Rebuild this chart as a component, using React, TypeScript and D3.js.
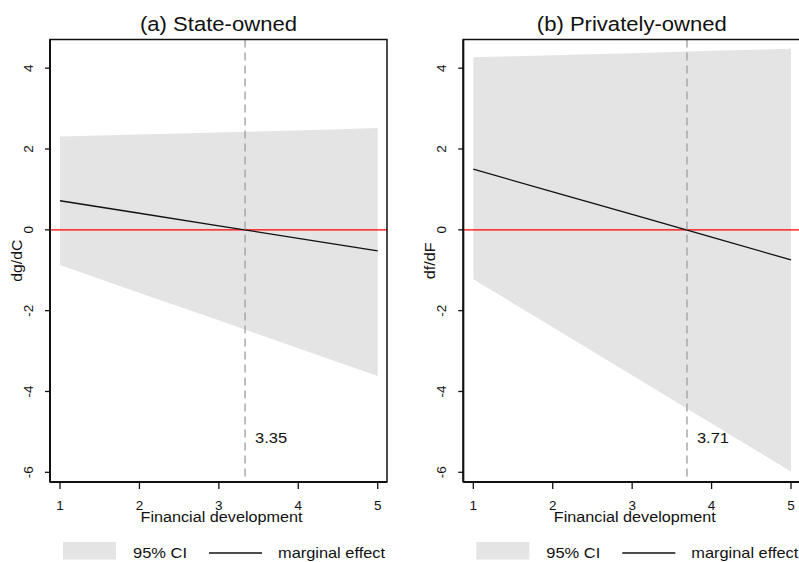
import React from "react";
import * as d3 from "d3";

const X_VALUES = [1, 2, 3, 4, 5];
const X_TICKS = [1, 2, 3, 4, 5];
const Y_TICKS = [-6, -4, -2, 0, 2, 4];

const STATE_ME = [0.72, 0.41, 0.1, -0.21, -0.52];
const STATE_UPPER = [2.31, 2.36, 2.41, 2.46, 2.52];
const STATE_LOWER = [-0.87, -1.56, -2.24, -2.93, -3.62];

const PRIVATE_ME = [1.5, 0.94, 0.38, -0.18, -0.745];
const PRIVATE_UPPER = [4.27, 4.32, 4.37, 4.43, 4.48];
const PRIVATE_LOWER = [-1.22, -2.41, -3.6, -4.79, -5.98];

const TITLES = ["(a) State-owned", "(b) Privately-owned"];
const TITLE_WIDTHS = [157, 190];
const Y_TITLES = ["dg/dC", "df/dF"];
const Y_TITLE_WIDTHS = [42, 37];
const THRESHOLDS = [3.33, 3.69];
const THRESHOLD_LABELS = ["3.35", "3.71"];
const X_TITLE = "Financial development";
const LEGEND_LABELS = ["95% CI", "marginal effect"];

const FONT = "'Liberation Sans', Arial, sans-serif";

type PanelProps = {
  left: number;
  title: string;
  titleWidth: number;
  yTitle: string;
  yTitleWidth: number;
  me: number[];
  upper: number[];
  lower: number[];
  threshold: number;
  thresholdLabel: string;
};

function Panel({
  left,
  title,
  titleWidth,
  yTitle,
  yTitleWidth,
  me,
  upper,
  lower,
  threshold,
  thresholdLabel,
}: PanelProps) {
  const width = 337;
  const top = 39.5;
  const bottom = 482;
  const right = left + width;
  const x = d3.scaleLinear().domain([0.874, 5.117]).range([left, right]);
  const y = d3.scaleLinear().domain([4.71, -6.24]).range([top, bottom]);

  const rows = X_VALUES.map((v, i) => ({ v, me: me[i], up: upper[i], lo: lower[i] }));
  const area = d3
    .area<any>()
    .x((d) => x(d.v))
    .y0((d) => y(d.lo))
    .y1((d) => y(d.up));
  const line = d3
    .line<any>()
    .x((d) => x(d.v))
    .y((d) => y(d.me));

  const cx = (left + right) / 2;
  const tx = x(threshold);

  return (
    <g fontFamily={FONT} fill="#111">
      <text
        x={cx}
        y={30.5}
        textAnchor="middle"
        fontSize={20.5}
        textLength={titleWidth}
        lengthAdjust="spacingAndGlyphs"
      >
        {title}
      </text>
      <path d={area(rows) || ""} fill="#e4e4e4" stroke="none" />
      <line x1={left} x2={right} y1={y(0)} y2={y(0)} stroke="#ff0000" strokeWidth={1.4} />
      <path d={line(rows) || ""} fill="none" stroke="#111" strokeWidth={1.3} />
      <line
        x1={tx}
        x2={tx}
        y1={top}
        y2={bottom}
        stroke="#a8a8a8"
        strokeWidth={1.5}
        strokeDasharray="8,5"
      />
      <text x={tx + 10} y={443} fontSize={15.5} textLength={32} lengthAdjust="spacingAndGlyphs">
        {thresholdLabel}
      </text>
      <rect x={left} y={top} width={width} height={bottom - top} fill="none" stroke="#111" strokeWidth={1.5} />
      <line x1={left} x2={left} y1={top} y2={bottom} stroke="#111" strokeWidth={2} />
      <line x1={left} x2={right} y1={bottom} y2={bottom} stroke="#111" strokeWidth={2} />
      {Y_TICKS.map((t) => (
        <g key={"y" + t}>
          <line x1={left - 5} x2={left} y1={y(t)} y2={y(t)} stroke="#111" strokeWidth={1.3} />
          <text
            transform={`translate(${left - 17},${y(t)}) rotate(-90)`}
            textAnchor="middle"
            fontSize={13.5}
          >
            {t}
          </text>
        </g>
      ))}
      <text
        transform={`translate(${left - 28},${(top + bottom) / 2}) rotate(-90)`}
        textAnchor="middle"
        fontSize={14}
        textLength={yTitleWidth}
        lengthAdjust="spacingAndGlyphs"
      >
        {yTitle}
      </text>
      {X_TICKS.map((t) => (
        <g key={"x" + t}>
          <line x1={x(t)} x2={x(t)} y1={bottom} y2={bottom + 7} stroke="#111" strokeWidth={1.3} />
          <text x={x(t)} y={509.5} textAnchor="middle" fontSize={13.5}>
            {t}
          </text>
        </g>
      ))}
      <text
        x={cx + 3}
        y={521.5}
        textAnchor="middle"
        fontSize={14}
        textLength={162}
        lengthAdjust="spacingAndGlyphs"
      >
        {X_TITLE}
      </text>
      <rect x={left + 13} y={542} width={53} height={17.5} fill="#e4e4e4" />
      <text x={left + 83} y={558} fontSize={15} textLength={54} lengthAdjust="spacingAndGlyphs">
        {LEGEND_LABELS[0]}
      </text>
      <line x1={left + 159} x2={left + 212} y1={553} y2={553} stroke="#111" strokeWidth={1.3} />
      <text x={left + 228} y={558} fontSize={15} textLength={107} lengthAdjust="spacingAndGlyphs">
        {LEGEND_LABELS[1]}
      </text>
    </g>
  );
}

export default function App() {
  return (
    <svg
      width={799}
      height={562}
      style={{ position: "absolute", left: 0, top: 0, background: "#fff" }}
    >
      <rect x={0} y={0} width={799} height={562} fill="#fff" />
      <Panel
        left={50}
        title={TITLES[0]}
        titleWidth={TITLE_WIDTHS[0]}
        yTitle={Y_TITLES[0]}
        yTitleWidth={Y_TITLE_WIDTHS[0]}
        me={STATE_ME}
        upper={STATE_UPPER}
        lower={STATE_LOWER}
        threshold={THRESHOLDS[0]}
        thresholdLabel={THRESHOLD_LABELS[0]}
      />
      <Panel
        left={463.3}
        title={TITLES[1]}
        titleWidth={TITLE_WIDTHS[1]}
        yTitle={Y_TITLES[1]}
        yTitleWidth={Y_TITLE_WIDTHS[1]}
        me={PRIVATE_ME}
        upper={PRIVATE_UPPER}
        lower={PRIVATE_LOWER}
        threshold={THRESHOLDS[1]}
        thresholdLabel={THRESHOLD_LABELS[1]}
      />
    </svg>
  );
}
